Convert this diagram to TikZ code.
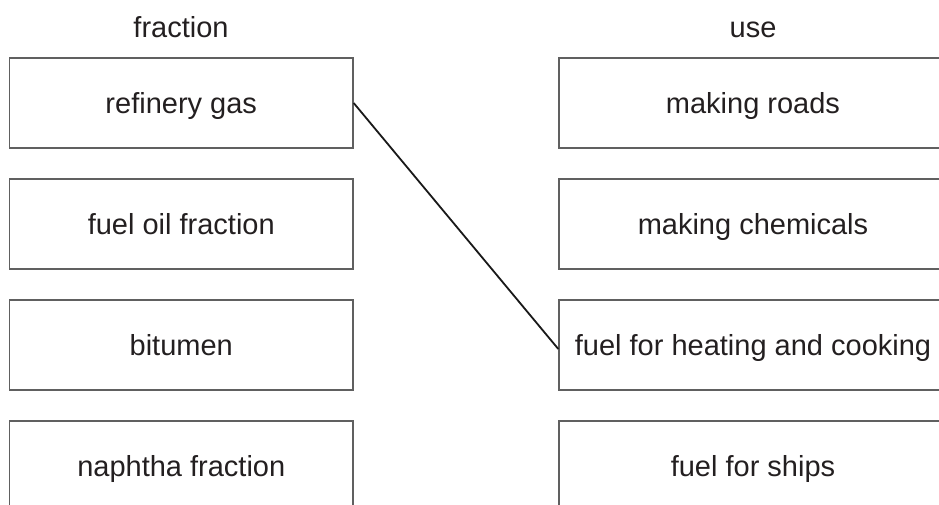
\documentclass[tikz,border=0pt]{standalone}
\usepackage{fontspec}
\setmainfont{Liberation Sans}
\usetikzlibrary{positioning}
\definecolor{boxgray}{RGB}{96,96,96}
\definecolor{linkblack}{RGB}{25,25,25}
\definecolor{textdark}{RGB}{35,31,32}

\begin{document}
\begin{tikzpicture}[x=1pt, y=-1pt,
  heading/.style={text=textdark, font=\fontsize{29}{34}\selectfont, text height=20pt, text depth=0pt},
  fracbox/.style={heading, draw=boxgray, line width=1.4pt, minimum width=343.5pt, minimum height=90pt, inner sep=0pt},
  usebox/.style={fracbox, minimum width=388pt}]
  \path[use as bounding box, clip] (0,0) rectangle (939,504);
  % column headings
  \node[heading] (fracHead) at (181,27) {fraction};
  \node[heading] (useHead) at (753,27) {use};
  % fractions
  \foreach \i/\txt in {1/refinery gas, 2/fuel oil fraction, 3/bitumen, 4/naphtha fraction}
    \node[fracbox] (frac\i) at (181.25,{103+121*(\i-1)}) {\txt};
  % uses
  \foreach \i/\txt in {1/making roads, 2/making chemicals, 3/fuel for heating and cooking, 4/fuel for ships}
    \node[usebox] (use\i) at (753,{103+121*(\i-1)}) {\txt};
  % answer line
  \draw[linkblack, line width=1.8pt] (frac1.east) -- ([yshift=-4pt]use3.west);
\end{tikzpicture}
\end{document}
